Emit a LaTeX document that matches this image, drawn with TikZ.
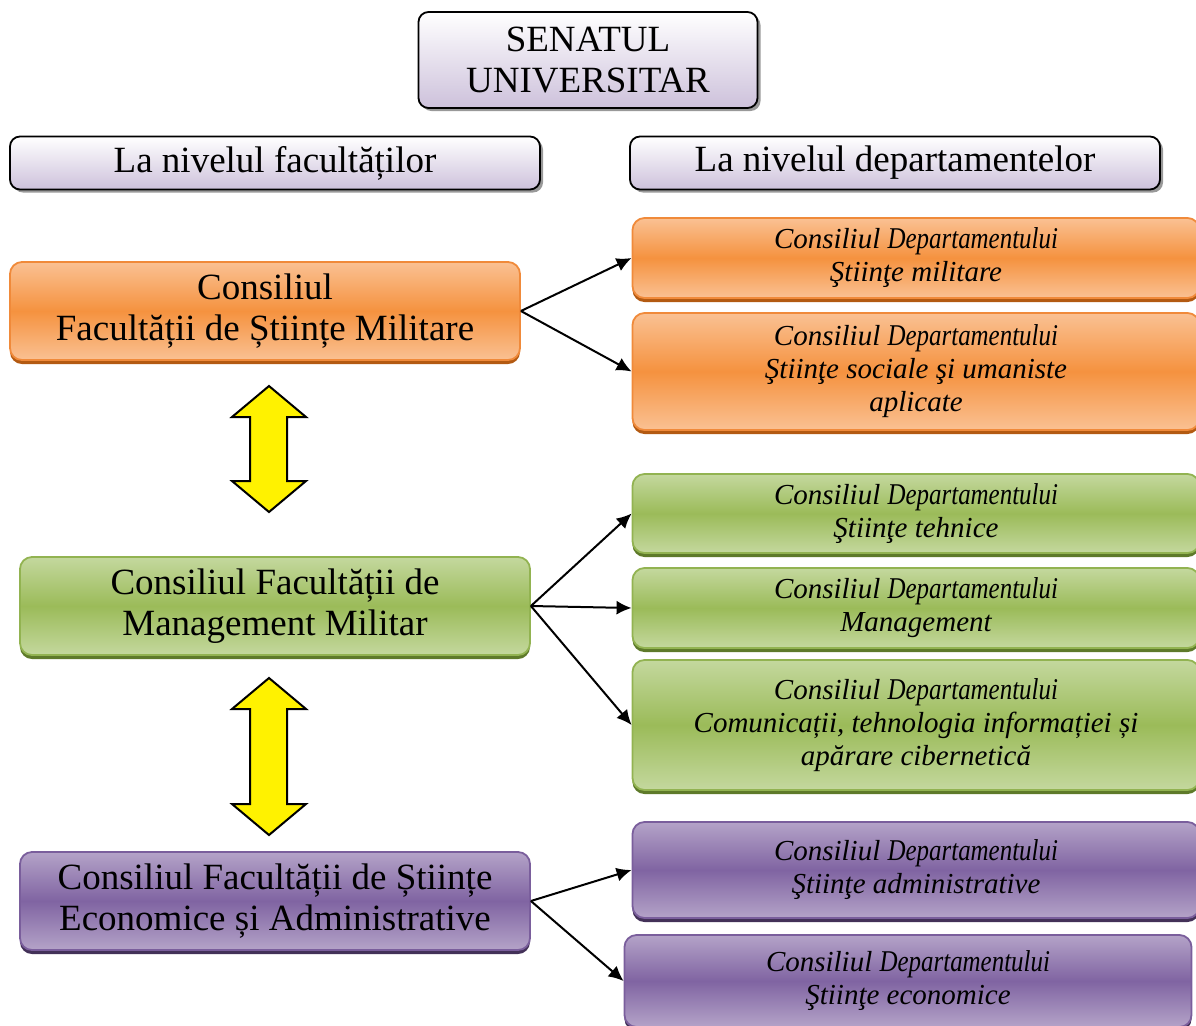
\documentclass[tikz,border=0pt]{standalone}
\usepackage{fontspec}
\setmainfont{Liberation Serif}
\usepackage{graphicx}
\usetikzlibrary{shapes,shadows,arrows.meta}

\definecolor{headLow}{HTML}{CDC1DB}
\definecolor{orLight}{HTML}{FAC193}
\definecolor{orMid}{HTML}{F5923F}
\definecolor{orEdge}{HTML}{F08A3A}
\definecolor{orDark}{HTML}{B35A12}
\definecolor{grLight}{HTML}{C4D89E}
\definecolor{grMid}{HTML}{9BBB59}
\definecolor{grEdge}{HTML}{92B351}
\definecolor{grDark}{HTML}{5E7A2A}
\definecolor{puLight}{HTML}{B4A3C8}
\definecolor{puMid}{HTML}{8064A2}
\definecolor{puEdge}{HTML}{7A5E9C}
\definecolor{puDark}{HTML}{433158}

\newcommand{\bigtxt}{\fontsize{18.5}{20.5}\selectfont}
\newcommand{\smalltxt}{\fontsize{14.5}{16.5}\selectfont\itshape}
\newcommand{\consdep}{Consiliul \scalebox{0.86}[1.04]{Departamentului}}

\begin{document}
\begin{tikzpicture}
    [x=0.5pt, y=-0.5pt,
    head/.style={draw, line width=0.9pt,
        rounded corners=5pt,
        top color=white, bottom color=headLow,
        drop shadow={shadow xshift=1.5pt, shadow yshift=-1.5pt,
            fill=black!40, opacity=1},
        align=center, font=\bigtxt},
    fac/.style={draw=#1Edge, line width=0.9pt,
        rounded corners=6pt,
        minimum width=255pt, minimum height=49pt,
        top color=#1Light, bottom color=#1Light, middle color=#1Mid,
        drop shadow={shadow xshift=0pt, shadow yshift=-2pt,
            fill=#1Dark, opacity=1},
        align=center, font=\bigtxt},
    dept/.style={draw=#1Edge, line width=0.9pt,
        rounded corners=6pt,
        minimum width=283.5pt,
        top color=#1Light, bottom color=#1Light, middle color=#1Mid,
        drop shadow={shadow xshift=0pt, shadow yshift=-2pt,
            fill=#1Dark, opacity=1},
        align=center, font=\smalltxt},
    conn/.style={-{Latex[length=7.5pt,width=7pt]}, line width=1pt},
    dblarrow/.style={draw, fill=yellow, line width=1pt, line join=miter}]

    \useasboundingbox (0,0) rectangle (1196,1025);

    % Senate
    \node [head,
        minimum width=169.5pt,
        minimum height=48pt]
        (senat) at (588,60) {SENATUL\\UNIVERSITAR};

    % Levels
    \node [head,
        minimum width=265pt,
        minimum height=26.5pt]
        (nivfac) at (275,163) {La nivelul facultăților};
    \node [head,
        minimum width=265pt,
        minimum height=26.5pt]
        (nivdep) at (895,163) {La nivelul departamentelor};

    % Faculties
    \node [fac=or] (fsm) at (265,311)
        {Consiliul\\Facultății de Științe Militare};
    \node [fac=gr] (fmm) at (275,606)
        {Consiliul Facultății de\\Management Militar};
    \node [fac=pu] (fsea) at (275,901)
        {Consiliul Facultății de Științe\\Economice și Administrative};

    % Departments - orange
    \node [dept=or, minimum height=40pt] (dsm) at (916,258)
        {\consdep\\Ştiinţe militare};
    \node [dept=or, minimum height=58.5pt] (dssu) at (916,371.5)
        {\consdep\\Ştiinţe sociale şi umaniste\\aplicate};

    % Departments - green
    \node [dept=gr, minimum height=39.5pt] (dst) at (916,513.5)
        {\consdep\\Ştiinţe tehnice};
    \node [dept=gr, minimum height=40pt] (dman) at (916,608)
        {\consdep\\Management};
    \node [dept=gr, minimum height=65pt] (dcti) at (916,725)
        {\consdep\\Comunicații, tehnologia informației și\\apărare cibernetică};

    % Departments - purple
    \node [dept=pu, minimum height=48pt] (dsa) at (916,870)
        {\consdep\\Ştiinţe administrative};
    \node [dept=pu, minimum height=46pt] (dse) at (908,981)
        {\consdep\\Ştiinţe economice};

    % Connectors
    \draw [conn] (fsm.east) -- (dsm.west);
    \draw [conn] (fsm.east) -- (dssu.west);
    \draw [conn] (fmm.east) -- (dst.west);
    \draw [conn] (fmm.east) -- (dman.west);
    \draw [conn] (fmm.east) -- (dcti.west);
    \draw [conn] (fsea.east) -- (dsa.west);
    \draw [conn] (fsea.east) -- (dse.west);

    % Yellow double arrows
    \foreach \ta/\tb in {386/512, 678/835}
        \draw [dblarrow] (269,\ta) -- (306,\ta+31) -- (287,\ta+31)
            -- (287,\tb-31) -- (306,\tb-31) -- (269,\tb)
            -- (232,\tb-31) -- (250,\tb-31) -- (250,\ta+31)
            -- (232,\ta+31) -- cycle;
\end{tikzpicture}
\end{document}
